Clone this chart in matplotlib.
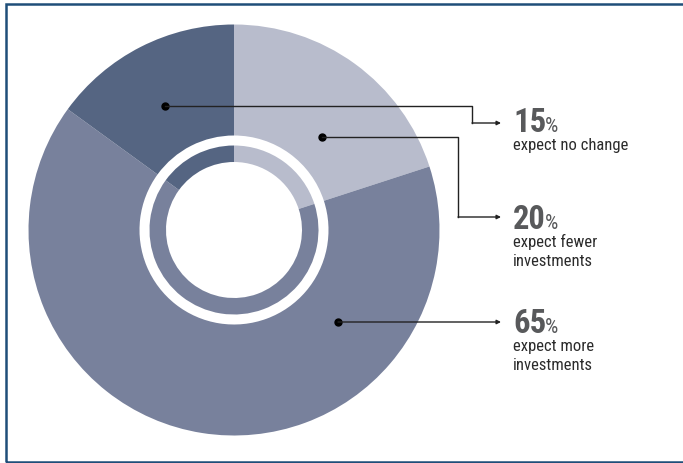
import matplotlib.pyplot as plt
from matplotlib.patches import Rectangle

# survey shares, clockwise from 12 o'clock
shares = [20, 65, 15]
colors = ['#b8bccc', '#78819c', '#556582']
pct_labels = ['20', '65', '15']
descriptions = [['expect fewer', 'investments'],
                ['expect more', 'investments'],
                ['expect no change']]

W, H = 683, 464
fig = plt.figure(figsize=(W / 100, H / 100), dpi=100)
ax = fig.add_axes([0, 0, 1, 1])

FONT = ['Roboto Condensed', 'DejaVu Sans']


def py(y):
    # convert top-down pixel row into axis y
    return H - y


cx, cy = 234, py(231)

# outer ring
ax.pie(shares, colors=colors, startangle=90, counterclock=False,
       center=(cx, cy), radius=205.5, frame=True,
       wedgeprops=dict(width=111, linewidth=0))
# thin inner ring
ax.pie(shares, colors=colors, startangle=90, counterclock=False,
       center=(cx, cy), radius=84.5, frame=True,
       wedgeprops=dict(width=16.5, linewidth=0))
ax.set_xlim(0, W)
ax.set_ylim(0, H)
ax.set_aspect('equal')
ax.axis('off')

# leader lines: (dot, elbow x, arrow y)
leaders = [
    ((165, 107), 472, 124),
    ((322, 138), 458, 218),
    ((338, 323), None, 323),
]
for (dx, dy), ex, ay in leaders:
    ax.plot(dx, py(dy), 'o', color='black', markersize=5)
    if ex is None:
        xs, ys = [dx], [py(dy)]
    else:
        xs = [dx, ex, ex]
        ys = [py(dy), py(dy), py(ay)]
    ax.plot(xs, ys, color='#222222', lw=1)
    ax.annotate('', xy=(501, py(ay)), xytext=(xs[-1], ys[-1]),
                arrowprops=dict(arrowstyle='-|>', color='#222222', lw=1,
                                mutation_scale=6, shrinkA=0, shrinkB=0))

# percentage labels with descriptions
num_base = {2: 132, 0: 229, 1: 333}
fig.canvas.draw()
for idx, base in num_base.items():
    t = ax.text(513, py(base), pct_labels[idx], fontsize=23.5, fontweight='bold',
                family=FONT, color='#58595b', va='baseline', ha='left')
    bb = t.get_window_extent(renderer=fig.canvas.get_renderer())
    ax.text(bb.x1 - 1, py(base), '%', fontsize=15, family=FONT,
            color='#58595b', va='baseline', ha='left')
    for k, line in enumerate(descriptions[idx]):
        ax.text(513, py(base + 18 + 19 * k), line, fontsize=12,
                family=FONT, color='#2b2b2b', va='baseline', ha='left')

# frame around the graphic
fig.patches.append(Rectangle((6, py(462.5)), 700, 458, transform=None,
                             fill=False, edgecolor='#1f4e79', lw=1.8))

fig.savefig('out.png', dpi=100)
